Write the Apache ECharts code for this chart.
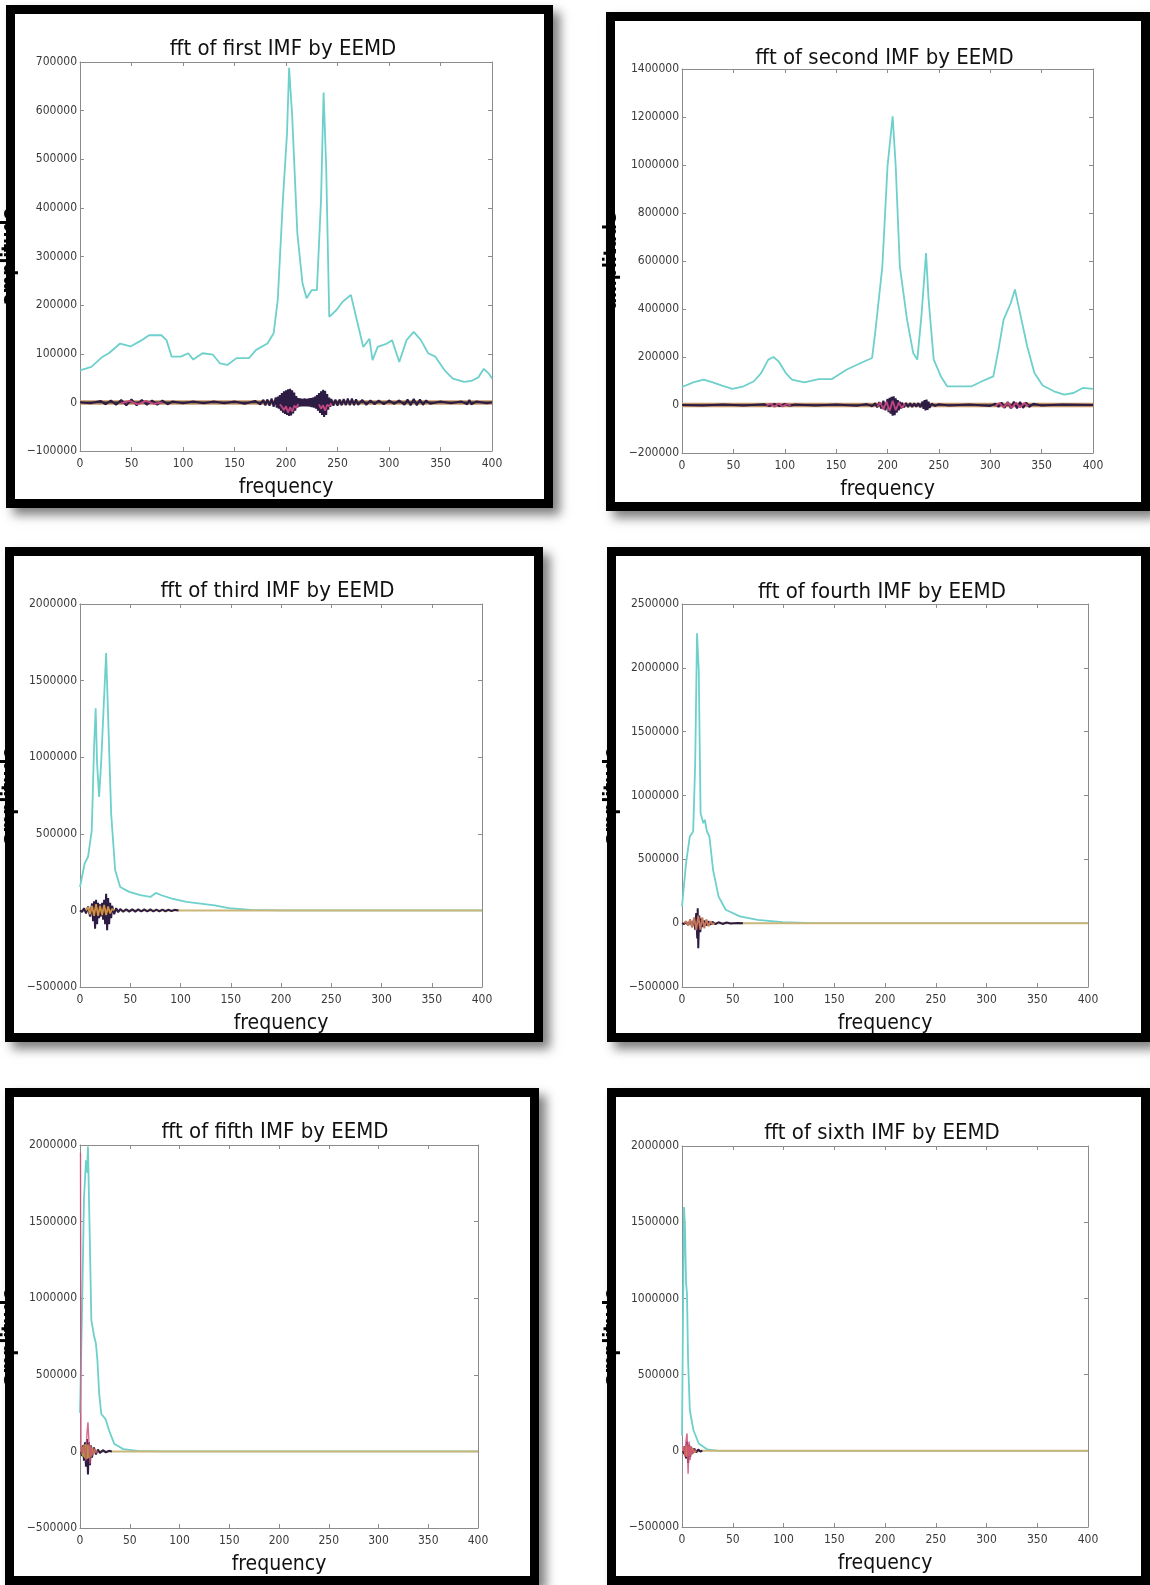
<!DOCTYPE html>
<html><head><meta charset="utf-8">
<script src="https://cdn.jsdelivr.net/npm/echarts@6/dist/echarts.min.js"></script>
<style>html,body{margin:0;padding:0;background:#fff}#c{width:1150px;height:1585px}</style>
</head><body><div id="c"></div>
<script>
// ---------------- DATA ----------------
const titles = ['fft of first IMF by EEMD','fft of second IMF by EEMD','fft of third IMF by EEMD',
  'fft of fourth IMF by EEMD','fft of fifth IMF by EEMD','fft of sixth IMF by EEMD'];
const xName = 'frequency';
const yName = 'amplitude';
const freqMin = 0, freqMax = 400, freqStep = 50;
const yMins = [-100000,-200000,-500000,-500000,-500000,-500000];
const yMaxs = [700000,1400000,2000000,2500000,2000000,2000000];
const ySteps = [100000,200000,500000,500000,500000,500000];

// magnitude spectra (cyan)
const imf1Abs = [[0,66000],[11,73000],[22,94000],[28,101000],[39,121000],[49,115000],[60,128000],[67,138000],[79,138000],[84,128000],[89,94000],[98,94000],[105,101000],[110,88000],[119,101000],[129,98000],[136,80000],[143,77000],[152,91000],[164,91000],[171,108000],[182,121000],[188,142000],[192,211000],[197,417000],[201,554000],[203,688000],[206,589000],[211,348000],[216,245000],[220,214000],[225,231000],[230,231000],[234,417000],[236.5,637000],[239,485000],[242,176000],[249,190000],[255,207000],[263,221000],[268,176000],[275,114000],[281,131000],[284,87000],[289,114000],[298,121000],[303,128000],[310,83000],[317,128000],[324,145000],[331,128000],[338,101000],[345,94000],[354,66000],[362,49000],[373,42000],[380,44000],[387,52000],[392,69000],[397,59000],[400,49000]];
const imf2Abs = [[0,75000],[11,94000],[21,106000],[30,94000],[39,81000],[49,67000],[60,78000],[70,99000],[77,133000],[84,189000],[89,200000],[94,182000],[101,133000],[107,106000],[119,94000],[133,108000],[146,108000],[160,147000],[174,175000],[185,196000],[188,300000],[195,578000],[200,994000],[205,1203000],[208,994000],[212,578000],[219,356000],[225,217000],[229,189000],[233,369000],[237.5,633000],[240,439000],[245,189000],[252,119000],[258,78000],[271,78000],[282,78000],[292,99000],[303,119000],[308,231000],[313,356000],[320,425000],[324,481000],[329,383000],[336,244000],[343,133000],[351,81000],[362,57000],[372,43000],[381,50000],[390,71000],[400,67000]];
const imf3Abs = [[0,153000],[4.6,306000],[8,349000],[11.7,523000],[14,1068000],[15.6,1320000],[17,959000],[19,741000],[21,959000],[23.4,1307000],[26,1680000],[28,1264000],[31,632000],[35,262000],[40,153000],[49,121000],[60,99000],[70,88000],[75.5,114000],[81,99000],[91.5,77000],[106,55000],[120,44000],[134,33000],[148,15000],[170,4000],[200,0],[400,0]];
const imf4Abs = [[0,131000],[4,470000],[7.7,679000],[11,718000],[13,1253000],[14.8,2270000],[16.5,1983000],[18.3,862000],[21,783000],[22.5,810000],[24.6,718000],[27,679000],[30.6,418000],[36,210000],[43,105000],[57,53000],[74.6,26000],[99,8000],[130,0],[400,0]];
const imf5Abs = [[0,250000],[2,900000],[4,1650000],[6,1900000],[7,1820000],[8,1990000],[9.6,1470000],[11.4,857000],[14.3,748000],[16,704000],[17.5,595000],[19.3,376000],[21.4,244000],[25.7,211000],[29.3,135000],[34.6,48000],[43.6,15000],[58,4000],[80,0],[400,0]];
const imf6Abs = [[0,100000],[1,900000],[2,1600000],[3,1450000],[4,1100000],[4.9,1032000],[6,594000],[7.7,266000],[11.3,135000],[16.5,48000],[25,9000],[36,0],[400,0]];

// real / imaginary parts oscillating around zero
const imf1Dark = [[0,0],[10,-2000],[20,3000],[25,-4000],[30,4000],[35,-5000],[40,5000],[45,-6000],[50,6000],[55,-6000],[60,5000],[65,-5000],[70,4000],[75,-5000],[80,4000],[85,-4000],[90,2000],[100,-2000],[110,2000],[120,-2000],[130,2000],[140,-2000],[150,2000],[160,-3000],[170,3000],[175,-4000],[178,5000],[180,-6000],[182,6000],[184,-7000],[186,8000],[188,-9000],[190,10000],[191,-11000],[192,12000],[193,-13000],[194,15000],[195,-17000],[196,19000],[197,-21000],[198,23000],[199,-24000],[200,25000],[201,-26000],[202,27000],[203,-28000],[204,28000],[205,-27000],[206,25000],[207,-23000],[208,20000],[209,-17000],[210,13000],[211,-11000],[212,9000],[213,-9000],[214,8000],[215,-8000],[216,7000],[217,-8000],[218,8000],[219,-8000],[220,7000],[221,-8000],[222,8000],[223,-9000],[224,9000],[225,-10000],[226,10000],[227,-11000],[228,12000],[229,-13000],[230,15000],[231,-17000],[232,19000],[233,-22000],[234,23000],[235,-26000],[236,26000],[237,-30000],[238,24000],[239,-26000],[240,17000],[241,-15000],[242,10000],[243,-9000],[244,7000],[246,-7000],[248,6000],[250,-7000],[252,6000],[254,-6000],[256,7000],[258,-6000],[260,8000],[262,-6000],[264,8000],[266,-6000],[268,6000],[270,-5000],[274,5000],[278,-5000],[282,4000],[286,-4000],[290,4000],[295,-4000],[300,4000],[305,-3000],[310,4000],[315,-5000],[318,6000],[321,-6000],[324,7000],[327,-6000],[330,6000],[333,-5000],[336,4000],[340,-3000],[350,2000],[360,-2000],[370,2000],[376,-4000],[378,5000],[380,-4000],[385,2000],[395,-2000],[400,0]];
const imf1Pink = [[40,-2000],[48,3000],[56,-4000],[64,3000],[72,-3000],[80,0],[81,'-'],[194,-4000],[196,-9000],[198,-16000],[200,-8000],[202,-21000],[204,-10000],[206,-19000],[208,-7000],[210,-11000],[212,-3000],[213,'-'],[232,-4000],[234,-13000],[236,-6000],[238,-17000],[240,-5000],[242,-8000],[244,-2000]];
const imf2Dark = [[0,0],[20,-2000],[40,2000],[60,-2000],[80,3000],[85,-4000],[90,5000],[95,-5000],[100,4000],[105,-3000],[110,2000],[130,-2000],[150,2000],[170,-3000],[180,4000],[185,-6000],[188,8000],[190,-10000],[192,12000],[194,-15000],[196,18000],[198,-22000],[200,25000],[201,-30000],[202,30000],[203,-36000],[204,34000],[205,-45000],[206,36000],[207,-42000],[208,28000],[209,-32000],[210,20000],[211,-22000],[212,14000],[213,-15000],[214,10000],[216,-10000],[218,9000],[220,-9000],[222,8000],[224,-8000],[226,7000],[228,-7000],[230,8000],[232,-10000],[234,14000],[235,-16000],[236,20000],[237,-22000],[238,22000],[239,-20000],[240,14000],[241,-12000],[243,6000],[246,-4000],[250,3000],[260,-2000],[280,2000],[300,-4000],[305,6000],[308,-8000],[311,10000],[314,-12000],[317,13000],[320,-14000],[323,14000],[326,-14000],[329,13000],[332,-12000],[335,10000],[338,-8000],[342,5000],[350,-2000],[370,2000],[400,0]];
const imf2Pink = [[82,-2000],[86,5000],[90,-7000],[94,6000],[98,-6000],[102,4000],[106,-3000],[107,'-'],[190,-6000],[193,10000],[196,-18000],[199,14000],[202,-25000],[205,18000],[208,-22000],[211,10000],[214,-12000],[217,5000],[218,'-'],[305,-4000],[309,8000],[313,-10000],[317,10000],[321,-12000],[325,10000],[329,-10000],[333,8000],[337,-5000]];
const imf3Dark = [[0,0],[2,-10000],[4,15000],[6,-20000],[8,25000],[10,-40000],[12,45000],[13,-70000],[14,60000],[15,-120000],[16,70000],[17,-90000],[18,50000],[19,-50000],[20,40000],[21,-40000],[22,50000],[23,-60000],[24,70000],[25,-90000],[26,109000],[27,-130000],[28,80000],[29,-90000],[30,50000],[31,-50000],[32,30000],[34,-25000],[36,15000],[38,-12000],[40,9000],[43,-9000],[46,8000],[49,-8000],[52,8000],[55,-8000],[58,7000],[61,-7000],[64,7000],[67,-7000],[70,7000],[73,-7000],[76,6000],[79,-6000],[82,6000],[85,-6000],[88,5000],[91,-5000],[94,4000],[98,0]];
const imf3Warm = [[6,0],[8,20000],[10,-25000],[12,30000],[14,-35000],[16,40000],[18,-35000],[20,30000],[22,-30000],[24,35000],[26,-30000],[28,25000],[30,-20000],[32,10000],[34,0]];
const imf4Dark = [[0,0],[2,-8000],[4,10000],[6,-15000],[8,20000],[10,-25000],[12,35000],[13,-50000],[14,80000],[15,-120000],[15.5,117000],[16,-196000],[17,60000],[18,-70000],[19,35000],[20,-30000],[22,20000],[24,-18000],[26,15000],[28,-12000],[30,10000],[33,-8000],[36,7000],[40,-6000],[44,5000],[48,-3000],[55,2000],[60,0]];
const imf4Warm = [[2,0],[4,15000],[6,-20000],[8,30000],[10,-35000],[12,45000],[14,-55000],[16,60000],[18,-50000],[20,45000],[22,-40000],[24,30000],[26,-25000],[28,15000],[30,-8000],[32,0]];
const imf5Pink = [[0.5,1950000],[1,30000],[2,-20000],[4,40000],[6,-60000],[7,120000],[8,190000],[9,60000],[10,-80000],[11,40000],[12,-30000],[14,20000],[16,-10000],[18,0]];
const imf5Dark = [[1,0],[2,-30000],[3,40000],[4,-60000],[5,60000],[6,-100000],[7,80000],[8,-150000],[9,60000],[10,-90000],[11,40000],[12,-40000],[14,25000],[16,-20000],[18,12000],[20,-10000],[23,8000],[26,-6000],[29,4000],[32,0]];
const imf5Warm = [[1,0],[2,30000],[3,-35000],[4,45000],[5,-45000],[6,50000],[7,-50000],[8,45000],[9,-45000],[10,40000],[11,-35000],[12,25000],[13,-20000],[15,10000],[17,0]];
const imf6Pink = [[1,0],[2,30000],[3,-40000],[4,70000],[5,114000],[6,-150000],[7,60000],[8,-60000],[9,30000],[10,-20000],[12,10000],[14,0]];
const imf6Dark = [[1,0],[2,-20000],[3,30000],[4,-50000],[5,60000],[6,-80000],[7,40000],[8,-40000],[9,25000],[10,-20000],[12,15000],[14,-10000],[16,8000],[18,-5000],[20,0]];
const imf6Warm = [[1,0],[2,25000],[3,-30000],[4,40000],[5,-40000],[6,35000],[7,-35000],[8,30000],[9,-25000],[10,15000],[12,-10000],[14,0]];
const zeroLine = [[0,0],[400,0]];

const absSeries = [imf1Abs, imf2Abs, imf3Abs, imf4Abs, imf5Abs, imf6Abs];
const darkSeries = [imf1Dark, imf2Dark, imf3Dark, imf4Dark, imf5Dark, imf6Dark];
const accentSeries = [imf1Pink, imf2Pink, imf3Warm, imf4Warm, imf5Warm, imf6Warm];
const extraSeries = [null, null, null, null, imf5Pink, imf6Pink];

// ---------------- LAYOUT / STYLE ----------------
const plotBoxes = [
  {left:80, top:62, width:412, height:389},
  {left:682, top:69, width:411, height:384},
  {left:79, top:604, width:403, height:383},
  {left:682, top:604, width:406, height:383},
  {left:78, top:1145, width:400, height:383},
  {left:682, top:1146, width:406, height:381}
];
const frames = [
  {x0:6, y0:5, x1:553, y1:508},
  {x0:606, y0:12, x1:1150, y1:511},
  {x0:5, y0:547, x1:543, y1:1042},
  {x0:607, y0:547, x1:1150, y1:1042},
  {x0:5, y0:1088, x1:539, y1:1585},
  {x0:607, y0:1088, x1:1150, y1:1585}
];
const titleCY = [51, 60, 593, 594, 1134, 1135];
const FONT = "'DejaVu Sans Condensed', 'DejaVu Sans', sans-serif";
const CYAN = '#6dd0cb';
const DARK = '#2d1d45';
const accentColors = ['#c2457e', '#c2457e', '#d09040', '#c8785a', '#a8a030', '#d08a40'];
const BORDER = 9;

const grid = [], xAxis = [], yAxis = [], series = [], title = [], graphic = [];
plotBoxes.forEach((b, i) => {
  grid.push({left:b.left, top:b.top, width:b.width, height:b.height, containLabel:false, show:false});
  const axisLine = {show:true, onZero:false, lineStyle:{color:'#8c8c8c', width:1}};
  const tick = {show:true, inside:true, length:4, lineStyle:{color:'#8c8c8c'}};
  xAxis.push({type:'value', gridIndex:i, position:'bottom', min:freqMin, max:freqMax, interval:freqStep,
    axisLine, axisTick:tick, splitLine:{show:false},
    axisLabel:{show:true, margin:7, fontSize:12, fontFamily:FONT, color:'#3a3a3a'},
    name:xName, nameLocation:'middle', nameGap:26,
    nameTextStyle:{fontSize:21, fontFamily:FONT, color:'#111'}});
  xAxis.push({type:'value', gridIndex:i, position:'top', min:freqMin, max:freqMax, interval:freqStep,
    axisLine, axisTick:tick, splitLine:{show:false}, axisLabel:{show:false}});
  yAxis.push({type:'value', gridIndex:i, position:'left', min:yMins[i], max:yMaxs[i], interval:ySteps[i],
    axisLine, axisTick:tick, splitLine:{show:false},
    axisLabel:{show:true, margin:3, fontSize:12, fontFamily:FONT, color:'#3a3a3a',
      formatter: v => v < 0 ? '\u2212' + Math.abs(v) : String(v)},
    name:yName, nameLocation:'middle', nameGap:62,
    nameTextStyle:{fontSize:17, fontWeight:'bold', fontFamily:"'DejaVu Sans', sans-serif", color:'#000'}});
  yAxis.push({type:'value', gridIndex:i, position:'right', min:yMins[i], max:yMaxs[i], interval:ySteps[i],
    axisLine, axisTick:tick, splitLine:{show:false}, axisLabel:{show:false}});

  const base = {type:'line', xAxisIndex:2*i, yAxisIndex:2*i, symbol:'none', showSymbol:false,
    animation:false, silent:true, connectNulls:false};
  series.push(Object.assign({}, base, {data:absSeries[i], lineStyle:{color:CYAN, width:1.8}, z:2}));
  series.push(Object.assign({}, base, {data:zeroLine, lineStyle:{color: i < 2 ? '#c49468' : '#cbb67a', width: i < 2 ? 4.5 : 2}, z:3}));
  if (i < 2) series.push(Object.assign({}, base, {data:zeroLine, lineStyle:{color:'#3a3030', width:1.6}, z:3}));
  series.push(Object.assign({}, base, {data:darkSeries[i], lineStyle:{color:DARK, width:2}, z:4}));
  series.push(Object.assign({}, base, {data:accentSeries[i], lineStyle:{color:accentColors[i], width:1.8}, z:5}));
  if (extraSeries[i]) series.push(Object.assign({}, base, {data:extraSeries[i], lineStyle:{color:'#d0507a', width:1.4, opacity:0.85}, z:5}));

  title.push({text:titles[i], left:b.left + b.width/2 - 3, top:titleCY[i] - 13, textAlign:'center', padding:0,
    textStyle:{fontSize:22, fontWeight:'normal', fontFamily:FONT, color:'#111'}});

  const f = frames[i];
  graphic.push({type:'rect', z:-10, silent:true,
    shape:{x:f.x0, y:f.y0, width:f.x1 - f.x0, height:f.y1 - f.y0},
    style:{fill:'#fff', shadowBlur:10, shadowColor:'rgba(0,0,0,0.5)', shadowOffsetX:7, shadowOffsetY:7}});
  graphic.push({type:'rect', z:100, silent:true,
    shape:{x:f.x0 + BORDER/2, y:f.y0 + BORDER/2, width:f.x1 - f.x0 - BORDER, height:f.y1 - f.y0 - BORDER},
    style:{fill:null, stroke:'#000', lineWidth:BORDER}});
});

const chart = echarts.init(document.getElementById('c'), null, {renderer:'canvas'});
chart.setOption({backgroundColor:'#fff', animation:false, grid, xAxis, yAxis, series, title, graphic});
</script></body></html>
